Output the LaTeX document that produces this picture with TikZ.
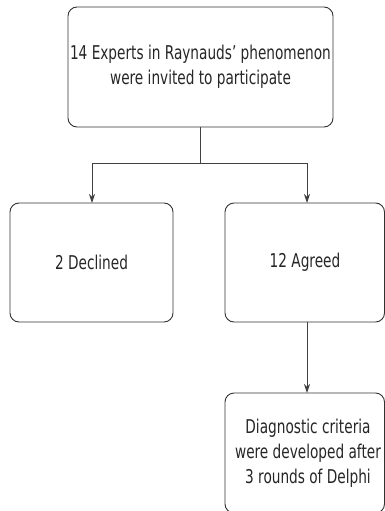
\documentclass[tikz,border=0pt]{standalone}
\usepackage{fontspec}
\setmainfont[FakeStretch=0.8]{DejaVu Sans Condensed}
\usetikzlibrary{arrows.meta}
\begin{document}
\begin{tikzpicture}[x=1pt,y=-1pt,
  box/.style={draw=black!80, line width=0.9pt, rounded corners=9pt, inner sep=0pt},
  lbl/.style={align=center, font=\fontsize{19}{25}\selectfont, text=black!85},
  conn/.style={draw=black!75, line width=0.9pt},
  arr/.style={conn, -{Stealth[length=9pt,width=6pt]}}]
\useasboundingbox (0,0) rectangle (385,511);
\clip (0,0) rectangle (385,511);
\draw[box] (68,7) rectangle (333,127);
\node[lbl] (top) at (200.5,67) {14 Experts in Raynauds’ phenomenon\\were invited to participate};
\draw[box] (10,203) rectangle (173,322);
\node[lbl] (dec) at (91.5,262) {2 Declined};
\draw[box] (225,203) rectangle (384.5,322);
\node[lbl] (agr) at (305,262) {12 Agreed};
\draw[box] (225,393) rectangle (384.5,513);
\node[lbl] (dia) at (308,453) {Diagnostic criteria\\were developed after\\3 rounds of Delphi};
\coordinate (tb) at (200.5,127);
\coordinate (jn) at (200.5,163);
\coordinate (jl) at (92,163);
\coordinate (jr) at (307,163);
\coordinate (lt) at (92,203);
\coordinate (rt) at (307,203);
\coordinate (rb) at (307,322);
\coordinate (bt) at (307,393);
\draw[conn] (tb) -- (jn);
\draw[conn] (jl) -- (jr);
\draw[arr] (jl) -- (lt);
\draw[arr] (jr) -- (rt);
\draw[arr] (rb) -- (bt);
\end{tikzpicture}
\end{document}
